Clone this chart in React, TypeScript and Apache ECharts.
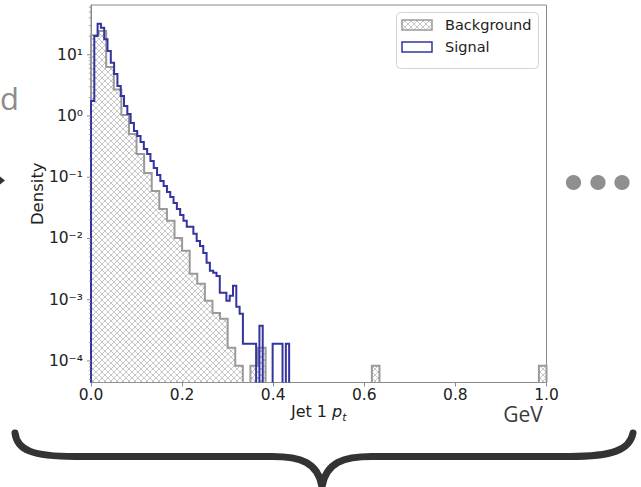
import React, { useEffect, useRef } from "react";
import * as echarts from "echarts";

// ---------------- data ----------------
const BACKGROUND_RANGE = [0, 1.0];
const SIGNAL_RANGE = [0, 0.435];

const backgroundDensity = [
  20.9, 24.4, 6.3, 2.7, 1.04, 0.509, 0.24, 0.1175, 0.0598, 0.0304,
  0.0194, 0.0102, 0.00628, 0.00265, 0.00182, 0.00096, 0.00061, 0.000488, 0.000164, 0.0000836,
  0, 0.0000836, 0.000164, 0, 0, 0, 0, 0, 0, 0,
  0, 0, 0, 0, 0, 0, 0, 0.0000836, 0, 0,
  0, 0, 0, 0, 0, 0, 0, 0, 0, 0,
  0, 0, 0, 0, 0, 0, 0, 0, 0, 0.0000836,
];

const signalDensity = [
  1.76, 20.2, 32.0, 27.6, 18.0, 11.5, 7.41, 4.84, 3.09, 2.12,
  1.46, 1.08, 0.769, 0.569, 0.472, 0.377, 0.29, 0.24, 0.185, 0.142,
  0.109, 0.087, 0.0721, 0.0576, 0.0477, 0.0381, 0.0304, 0.0243, 0.0194, 0.0155,
  0.0155, 0.0119, 0.00914, 0.00757, 0.00582, 0.004, 0.00296, 0.00275, 0.00245, 0.0013,
  0.0013, 0.00096, 0.00116, 0.00169, 0.000766, 0.000589, 0.000191, 0.000191, 0.000191, 0.000191,
  0, 0.000375, 0, 0, 0, 0.000191, 0.000191, 0.000191, 0, 0.000191,
];

const X_MIN = 0;
const X_MAX = 1.0;
const X_TICK_STEP = 0.2;
const Y_MIN = 4.45e-5;
const Y_MAX = 65;
const Y_MAJOR_EXPONENTS = [-4, -3, -2, -1, 0, 1];
const Y_MINOR_MULTIPLIERS = [2, 3, 4, 5, 6, 7, 8, 9];
const LEGEND_LABELS = ["Background", "Signal"];
const Y_LABEL = "Density";
const UNIT_LABEL = "GeV";

// ---------------- styles ----------------
const FONT = '"DejaVu Sans", sans-serif';
const BG_EDGE = "#9a9a9a";
const HATCH_COLOR = "#b8b8b8";
const SIG_COLOR = "#3434a0";
const AXIS_COLOR = "#8a8a8a";
const TEXT_COLOR = "#222222";
const HATCH_STEP = 6;

const BRACE_PATH =
  "M15 433 C17 450 32 456.5 75 456.5 L272 456.5 C300 456.5 318 462 322 487 " +
  "M322 487 C326 462 344 456.5 372 456.5 L570 456.5 C612 456.5 630 450 633 433";

const SUP: Record<string, string> = {
  "-": "\u207B", "0": "\u2070", "1": "\u00B9", "2": "\u00B2", "3": "\u00B3",
  "4": "\u2074", "5": "\u2075", "6": "\u2076", "7": "\u2077", "8": "\u2078", "9": "\u2079",
};

function binEdges(range: number[], n: number) {
  const out: number[] = [];
  for (let i = 0; i <= n; i++) out.push(range[0] + ((range[1] - range[0]) * i) / n);
  return out;
}

function stepRuns(edges: number[], vals: number[]) {
  const runs: number[][][] = [];
  let cur: number[][] | null = null;
  vals.forEach((v, i) => {
    if (v > 0) {
      if (!cur) cur = [[edges[i], Y_MIN]];
      cur.push([edges[i], v], [edges[i + 1], v]);
    } else if (cur) {
      cur.push([edges[i], Y_MIN]);
      runs.push(cur);
      cur = null;
    }
  });
  if (cur) {
    (cur as number[][]).push([edges[edges.length - 1], Y_MIN]);
    runs.push(cur);
  }
  return runs;
}

function hatchLines(x0: number, x1: number, y0: number, y1: number, d: number) {
  const segs: number[][] = [];
  for (let c = Math.ceil((x0 + y0) / d) * d; c <= x1 + y1; c += d) {
    const lo = Math.max(x0, c - y1);
    const hi = Math.min(x1, c - y0);
    if (hi > lo) segs.push([lo, c - lo, hi, c - hi]);
  }
  for (let c = Math.ceil((x0 - y1) / d) * d; c <= x1 - y0; c += d) {
    const lo = Math.max(x0, y0 + c);
    const hi = Math.min(x1, y1 + c);
    if (hi > lo) segs.push([lo, lo - c, hi, hi - c]);
  }
  return segs;
}

function hatchElements(x0: number, x1: number, y0: number, y1: number) {
  return hatchLines(x0, x1, y0, y1, HATCH_STEP).map((s) => ({
    type: "line",
    shape: { x1: s[0], y1: s[1], x2: s[2], y2: s[3] },
    style: { stroke: HATCH_COLOR, lineWidth: 0.8 },
  }));
}

function logLabel(v: number) {
  const l = Math.log10(v);
  const k = Math.round(l);
  if (Math.abs(l - k) > 1e-6) return "";
  return "10" + String(k).split("").map((ch) => SUP[ch] || ch).join("");
}

export default function App() {
  const ref = useRef<HTMLDivElement>(null);

  useEffect(() => {
    const el = ref.current!;
    echarts.graphic.registerShape("brace", echarts.graphic.extendPath(BRACE_PATH, {}));
    const chart = echarts.init(el, null, { renderer: "svg" });

    const bgEdges = binEdges(BACKGROUND_RANGE, backgroundDensity.length);
    const sigEdges = binEdges(SIGNAL_RANGE, signalDensity.length);

    const minorTicks: number[] = [];
    for (let k = Y_MAJOR_EXPONENTS[0] - 1; k <= Y_MAJOR_EXPONENTS[Y_MAJOR_EXPONENTS.length - 1]; k++) {
      Y_MINOR_MULTIPLIERS.forEach((m) => {
        const v = m * Math.pow(10, k);
        if (v > Y_MIN && v < Y_MAX) minorTicks.push(v);
      });
    }

    const legendHatch = hatchElements(402, 432, 20, 30);

    const option: any = {
      animation: false,
      backgroundColor: "#ffffff",
      textStyle: { fontFamily: FONT },
      grid: {
        left: 91,
        top: 5,
        width: 455.5,
        height: 377.5,
        show: true,
        borderColor: AXIS_COLOR,
        borderWidth: 1,
        backgroundColor: "transparent",
        outerBoundsMode: "none",
        containLabel: false,
      },
      xAxis: {
        type: "value",
        min: X_MIN,
        max: X_MAX,
        interval: X_TICK_STEP,
        name: "Jet 1 {p|p}{t|t}",
        nameLocation: "middle",
        nameGap: 18,
        nameMoveOverlap: false,
        nameTextStyle: {
          fontSize: 16,
          color: TEXT_COLOR,
          fontFamily: FONT,
          lineHeight: 22,
          rich: {
            p: { fontSize: 16, fontStyle: "italic", color: TEXT_COLOR, fontFamily: FONT, lineHeight: 22 },
            t: { fontSize: 11, fontStyle: "italic", color: TEXT_COLOR, fontFamily: FONT, lineHeight: 22, verticalAlign: "bottom" },
          },
        },
        axisLine: { show: true, lineStyle: { color: AXIS_COLOR, width: 1 } },
        axisTick: { show: true, length: 4, lineStyle: { color: AXIS_COLOR } },
        axisLabel: {
          fontSize: 15.5,
          color: TEXT_COLOR,
          margin: 4,
          formatter: (v: number) => v.toFixed(1),
        },
        splitLine: { show: false },
      },
      yAxis: {
        type: "log",
        logBase: 10,
        min: Y_MIN,
        max: Y_MAX,
        name: Y_LABEL,
        nameLocation: "middle",
        nameRotate: 90,
        nameGap: 45,
        nameMoveOverlap: false,
        nameTextStyle: { fontSize: 16.5, color: TEXT_COLOR, fontFamily: FONT },
        axisLine: { show: true, lineStyle: { color: AXIS_COLOR, width: 1 } },
        axisTick: { show: false },
        axisLabel: {
          fontSize: 15.5,
          color: TEXT_COLOR,
          margin: 8,
          showMinLabel: false,
          showMaxLabel: false,
          formatter: logLabel,
        },
        splitLine: { show: false },
        minorTick: { show: false },
      },
      series: [
        {
          type: "custom",
          name: LEGEND_LABELS[0],
          coordinateSystem: "cartesian2d",
          silent: true,
          z: 2,
          data: [[0.5, 1]],
          renderItem: (_params: any, api: any) => {
            const children: any[] = [];
            const bottom = api.coord([X_MIN, Y_MIN])[1];
            backgroundDensity.forEach((v, i) => {
              if (v <= 0) return;
              const p0 = api.coord([bgEdges[i], v]);
              const p1 = api.coord([bgEdges[i + 1], v]);
              hatchElements(p0[0], p1[0], p0[1], bottom).forEach((e) => children.push(e));
            });
            stepRuns(bgEdges, backgroundDensity).forEach((run) =>
              children.push({
                type: "polyline",
                shape: { points: run.map((p) => api.coord(p)) },
                style: { stroke: BG_EDGE, lineWidth: 2, fill: "none" },
              })
            );
            return { type: "group", children };
          },
        },
        {
          type: "custom",
          name: LEGEND_LABELS[1],
          coordinateSystem: "cartesian2d",
          silent: true,
          z: 3,
          data: [[0.5, 1]],
          renderItem: (_params: any, api: any) => {
            const children: any[] = stepRuns(sigEdges, signalDensity).map((run) => ({
              type: "polyline",
              shape: { points: run.map((p) => api.coord(p)) },
              style: { stroke: SIG_COLOR, lineWidth: 2, fill: "none" },
            }));
            return { type: "group", children };
          },
        },
        {
          type: "custom",
          name: "yticks",
          coordinateSystem: "cartesian2d",
          silent: true,
          z: 4,
          data: [[0.5, 1]],
          renderItem: (_params: any, api: any) => {
            const children: any[] = [];
            const x = api.coord([X_MIN, 1])[0];
            Y_MAJOR_EXPONENTS.forEach((k) => {
              const y = api.coord([X_MIN, Math.pow(10, k)])[1];
              children.push({
                type: "line",
                shape: { x1: x - 4, y1: y, x2: x, y2: y },
                style: { stroke: AXIS_COLOR, lineWidth: 1 },
              });
            });
            minorTicks.forEach((v) => {
              const y = api.coord([X_MIN, v])[1];
              children.push({
                type: "line",
                shape: { x1: x - 2.2, y1: y, x2: x, y2: y },
                style: { stroke: AXIS_COLOR, lineWidth: 0.7 },
              });
            });
            return { type: "group", children };
          },
        },
      ],
      graphic: [
        // legend
        {
          type: "rect",
          z: 100,
          shape: { x: 396.5, y: 12.5, width: 142, height: 56, r: 4 },
          style: { fill: "rgba(255,255,255,0.85)", stroke: "#d4d4d4", lineWidth: 1 },
        },
        ...legendHatch.map((e) => ({ ...e, z: 101 })),
        {
          type: "rect",
          z: 102,
          shape: { x: 402, y: 20, width: 30, height: 10 },
          style: { fill: "none", stroke: BG_EDGE, lineWidth: 1.5 },
        },
        {
          type: "rect",
          z: 102,
          shape: { x: 402, y: 42, width: 30, height: 10 },
          style: { fill: "none", stroke: SIG_COLOR, lineWidth: 1.5 },
        },
        {
          type: "text",
          z: 102,
          x: 445,
          y: 25,
          style: { text: LEGEND_LABELS[0], fill: TEXT_COLOR, fontSize: 14.5, fontFamily: FONT, verticalAlign: "middle", align: "left" },
        },
        {
          type: "text",
          z: 102,
          x: 445,
          y: 47,
          style: { text: LEGEND_LABELS[1], fill: TEXT_COLOR, fontSize: 14.5, fontFamily: FONT, verticalAlign: "middle", align: "left" },
        },
        // unit label
        {
          type: "text",
          z: 10,
          x: 523,
          y: 414,
          style: { text: UNIT_LABEL, fill: "#3a3a3a", fontSize: 21, fontFamily: '"Open Sans", sans-serif', verticalAlign: "middle", align: "center" },
        },
        // slide decorations
        {
          type: "text",
          z: 10,
          x: 0,
          y: 98,
          style: { text: "d", fill: "#8c8c8c", fontSize: 31, fontFamily: '"Open Sans", sans-serif', verticalAlign: "middle", align: "left" },
        },
        {
          type: "polygon",
          z: 10,
          shape: { points: [[0, 176.5], [5, 180.5], [0, 184.5]] },
          style: { fill: "#333333" },
        },
        { type: "circle", z: 10, shape: { cx: 573.5, cy: 182.5, r: 7.6 }, style: { fill: "#8f8f8f" } },
        { type: "circle", z: 10, shape: { cx: 598, cy: 182.5, r: 7.6 }, style: { fill: "#8f8f8f" } },
        { type: "circle", z: 10, shape: { cx: 622, cy: 182.5, r: 7.6 }, style: { fill: "#8f8f8f" } },
        {
          type: "brace",
          z: 10,
          x: 0,
          y: 0,
          scaleX: 1,
          scaleY: 1,
          style: { fill: "none", stroke: "#333333", lineWidth: 7, lineCap: "round", lineJoin: "round" },
        },
      ],
    };

    chart.setOption(option);
    return () => chart.dispose();
  }, []);

  return (
    <div
      ref={ref}
      style={{ position: "fixed", left: 0, top: 0, width: 641, height: 487, background: "#ffffff" }}
    />
  );
}
